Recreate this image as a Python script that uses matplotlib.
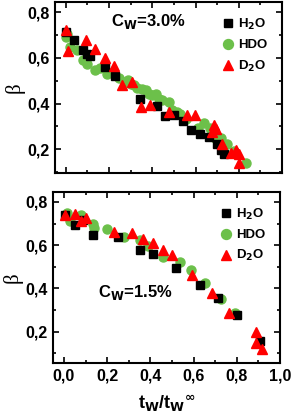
import matplotlib
matplotlib.use("Agg")
import matplotlib.pyplot as plt
from matplotlib.ticker import MultipleLocator, FuncFormatter

plt.rcParams['font.family'] = ['Liberation Sans', 'DejaVu Sans']
plt.rcParams['font.weight'] = 'bold'
plt.rcParams['mathtext.default'] = 'bf'

# Cw = 3.0 %
h2o_3_x = [0.0, 0.037, 0.079, 0.10, 0.11, 0.18, 0.23, 0.345, 0.42, 0.46, 0.50, 0.54, 0.58, 0.62, 0.66, 0.70, 0.72, 0.73]
h2o_3_y = [0.714, 0.68, 0.633, 0.619, 0.61, 0.56, 0.52, 0.42, 0.39, 0.344, 0.35, 0.323, 0.283, 0.268, 0.253, 0.224, 0.198, 0.18]
hdo_3_x = [0.0, 0.006, 0.02, 0.05, 0.079, 0.10, 0.137, 0.16, 0.19, 0.22, 0.245, 0.276, 0.29, 0.30, 0.315, 0.33,
           0.353, 0.37, 0.384, 0.40, 0.415, 0.43, 0.446, 0.477, 0.49, 0.515, 0.53, 0.554, 0.611, 0.64, 0.665,
           0.69, 0.72, 0.747, 0.778, 0.832]
hdo_3_y = [0.69, 0.703, 0.65, 0.636, 0.59, 0.575, 0.546, 0.556, 0.53, 0.54, 0.51, 0.494, 0.505, 0.484, 0.48, 0.47,
           0.465, 0.46, 0.443, 0.436, 0.443, 0.42, 0.414, 0.407, 0.37, 0.363, 0.356, 0.334, 0.293, 0.315, 0.293,
           0.249, 0.249, 0.224, 0.192, 0.139]
d2o_3_x = [0.003, 0.01, 0.094, 0.137, 0.18, 0.222, 0.26, 0.307, 0.35, 0.39, 0.477, 0.56, 0.597, 0.677, 0.685,
           0.696, 0.724, 0.762, 0.786, 0.80, 0.80]
d2o_3_y = [0.724, 0.63, 0.68, 0.64, 0.60, 0.563, 0.48, 0.495, 0.385, 0.392, 0.363, 0.348, 0.348, 0.275, 0.304,
           0.29, 0.224, 0.183, 0.198, 0.18, 0.14]

# Cw = 1.5 %
h2o_15_x = [0.005, 0.05, 0.09, 0.133, 0.25, 0.35, 0.41, 0.52, 0.63, 0.715, 0.80, 0.907]
h2o_15_y = [0.74, 0.694, 0.717, 0.648, 0.64, 0.578, 0.56, 0.494, 0.417, 0.355, 0.275, 0.155]
hdo_15_x = [0.012, 0.028, 0.08, 0.136, 0.14, 0.20, 0.28, 0.35, 0.39, 0.46, 0.537, 0.59, 0.653, 0.727, 0.79]
hdo_15_y = [0.748, 0.71, 0.74, 0.70, 0.68, 0.673, 0.64, 0.624, 0.594, 0.547, 0.524, 0.486, 0.424, 0.35, 0.286]
d2o_15_x = [0.005, 0.05, 0.08, 0.10, 0.23, 0.313, 0.367, 0.41, 0.457, 0.50, 0.594, 0.684, 0.765, 0.89, 0.89, 0.915]
d2o_15_y = [0.74, 0.745, 0.714, 0.725, 0.663, 0.655, 0.628, 0.61, 0.58, 0.555, 0.463, 0.378, 0.285, 0.20, 0.147, 0.12]

green = '#6cc04a'
comma = FuncFormatter(lambda v, p: ('%.1f' % v).replace('.', ','))

fig = plt.figure(figsize=(2.92, 4.17), dpi=100)
ax1 = fig.add_axes([0.188, 0.585, 0.778, 0.41])
ax2 = fig.add_axes([0.182, 0.1295, 0.777, 0.41])


def draw(ax, hx, hy, dx, dy, tx, ty):
    ax.plot(hx, hy, 's', color='black', ms=5.2, label='H$_2$O', zorder=3)
    ax.plot(dx, dy, 'o', color=green, ms=6.5, label='HDO', zorder=2)
    ax.plot(tx, ty, '^', color='#ff0000', ms=7, label='D$_2$O', zorder=4)
    ax.set_xlim(-0.05, 1.0)
    ax.xaxis.set_major_locator(MultipleLocator(0.2))
    ax.xaxis.set_minor_locator(MultipleLocator(0.1))
    ax.yaxis.set_major_locator(MultipleLocator(0.2))
    ax.yaxis.set_minor_locator(MultipleLocator(0.1))
    ax.xaxis.set_major_formatter(comma)
    ax.yaxis.set_major_formatter(comma)
    ax.tick_params(which='both', direction='in', top=True, right=True, width=1.2)
    ax.tick_params(which='major', length=4, labelsize=11.5, pad=4)
    ax.tick_params(which='minor', length=2)
    for s in ax.spines.values():
        s.set_linewidth(1.5)
    ax.set_ylabel('β', fontsize=15, fontweight='normal', family='Liberation Serif', labelpad=2)
    leg = ax.legend(loc='upper right', frameon=False, fontsize=9.5, handletextpad=0.2,
                    labelspacing=0.55, borderaxespad=0.7, handlelength=1.2, markerscale=1.1)
    for t in leg.get_texts():
        t.set_fontweight('bold')


draw(ax1, h2o_3_x, h2o_3_y, hdo_3_x, hdo_3_y, d2o_3_x, d2o_3_y)
draw(ax2, h2o_15_x, h2o_15_y, hdo_15_x, hdo_15_y, d2o_15_x, d2o_15_y)

ax1.set_ylim(0.095, 0.845)
ax1.tick_params(labelbottom=False)
ax2.set_ylim(0.055, 0.846)

ax1.text(0.41, 0.885, 'C$_\\mathbf{W}$=3.0%', transform=ax1.transAxes, fontsize=12,
         fontweight='bold', ha='center', va='center')
ax2.text(0.36, 0.415, 'C$_\\mathbf{W}$=1.5%', transform=ax2.transAxes, fontsize=12,
         fontweight='bold', ha='center', va='center')
ax2.set_xlabel('t$_\\mathbf{W}$/t$_\\mathbf{W}$$^\\infty$', fontsize=13, fontweight='bold', labelpad=6)

fig.savefig('out.png', dpi=100)
